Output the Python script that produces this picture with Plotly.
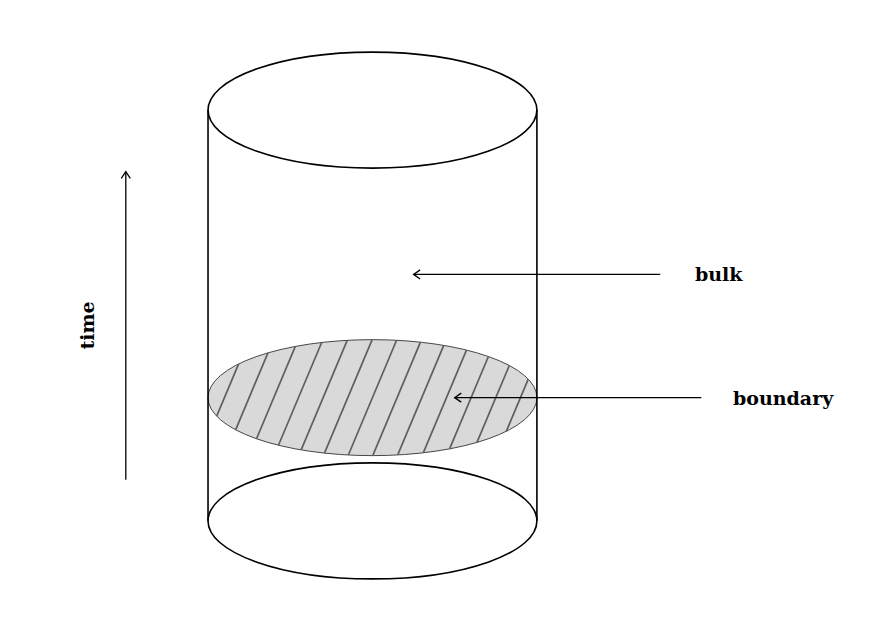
import numpy as np
import plotly.graph_objects as go

# cylinder geometry (diagram units, 1 unit ~ 82 px)
rx, ry = 2.0, 0.706
y_bottom, y_top = 0.0, 5.0
y_boundary = 1.5

# hatching of the boundary slice
hatch_offsets = [k * 0.3 for k in range(-7, 8)]
hatch_slope = 0.42  # dx per dy

# arrows: (x_start, y_start, x_end, y_end)
arrow_time = (-3.0, 0.5, -3.0, 4.25)
arrow_bulk = (3.5, 3.0, 0.5, 3.0)
arrow_boundary = (4.0, 1.5, 1.0, 1.5)

labels = ["time", "bulk", "boundary"]
label_x = [-3.47, 3.9, 4.36]
label_y = [2.38, 3.0, 1.5]

FONT = dict(family="DejaVu Serif, Liberation Serif, serif", size=19,
            color="black", weight="bold")
INK = "black"

fig = go.Figure()
shapes = []

# top and bottom caps
for yc in (y_top, y_bottom):
    shapes.append(dict(type="circle", xref="x", yref="y",
                       x0=-rx, x1=rx, y0=yc - ry, y1=yc + ry,
                       line=dict(color=INK, width=1.6), layer="above"))

# side walls
for xs in (-rx, rx):
    shapes.append(dict(type="line", xref="x", yref="y",
                       x0=xs, x1=xs, y0=y_bottom, y1=y_top,
                       line=dict(color=INK, width=1.6), layer="above"))

# boundary slice fill
shapes.append(dict(type="circle", xref="x", yref="y",
                   x0=-rx, x1=rx, y0=y_boundary - ry, y1=y_boundary + ry,
                   fillcolor="#d9d9d9", line=dict(color="#333333", width=0.9),
                   layer="below"))

# hatch lines clipped to the ellipse: x = c + s*t, t = y - y_boundary
hx, hy = [], []
for c in hatch_offsets:
    a = (hatch_slope / rx) ** 2 + (1 / ry) ** 2
    b = 2 * c * hatch_slope / rx ** 2
    d = (c / rx) ** 2 - 1
    disc = b * b - 4 * a * d
    if disc <= 0:
        continue
    t1 = (-b - np.sqrt(disc)) / (2 * a)
    t2 = (-b + np.sqrt(disc)) / (2 * a)
    for t in (t1, t2):
        hx.append(c + hatch_slope * t)
        hy.append(y_boundary + t)
    hx.append(None)
    hy.append(None)

fig.add_trace(go.Scatter(x=hx, y=hy, mode="lines",
                         line=dict(color="#5f5f5f", width=1.7),
                         hoverinfo="skip", showlegend=False))

# arrows with open heads
head_len, head_half = 0.08, 0.055
for xs, ys, xe, ye in (arrow_time, arrow_bulk, arrow_boundary):
    dx, dy = xe - xs, ye - ys
    n = np.hypot(dx, dy)
    ux, uy = dx / n, dy / n
    px_, py_ = -uy, ux
    bx, by = xe - ux * head_len, ye - uy * head_len
    ax = [xs, xe, None, bx + px_ * head_half, xe, bx - px_ * head_half]
    ay = [ys, ye, None, by + py_ * head_half, ye, by - py_ * head_half]
    fig.add_trace(go.Scatter(x=ax, y=ay, mode="lines",
                             line=dict(color=INK, width=1.3),
                             hoverinfo="skip", showlegend=False))

annotations = []
for text, x, y in zip(labels, label_x, label_y):
    rotated = text == "time"
    annotations.append(dict(x=x, y=y, xref="x", yref="y", text=text,
                            showarrow=False, font=FONT,
                            textangle=-90 if rotated else 0,
                            xanchor="center" if rotated else "left",
                            yanchor="middle"))

fig.update_layout(
    width=874, height=640,
    margin=dict(l=0, r=0, t=0, b=0),
    paper_bgcolor="white", plot_bgcolor="white",
    shapes=shapes, annotations=annotations,
    xaxis=dict(range=[-4.53, 6.10], visible=False, fixedrange=True),
    yaxis=dict(range=[-1.45, 6.34], visible=False, fixedrange=True),
    showlegend=False,
)

fig.write_html(
    "out.html",
    config={"displayModeBar": False},
    post_script="document.body.style.margin='0';document.body.style.overflow='hidden';",
)
